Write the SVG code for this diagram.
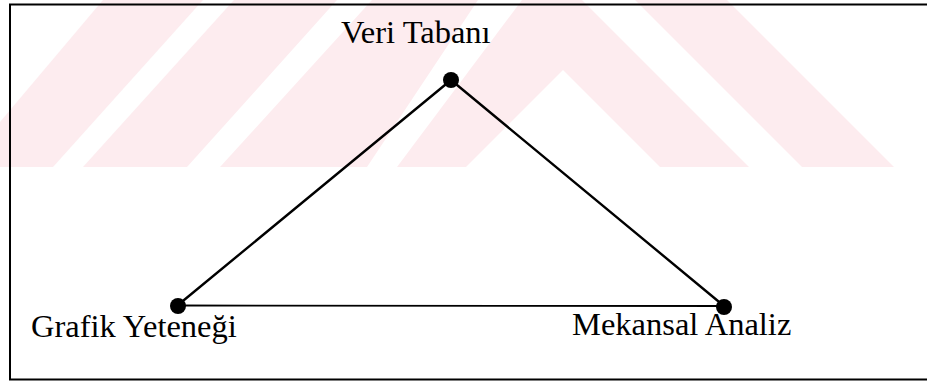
<svg xmlns="http://www.w3.org/2000/svg" width="927" height="384" viewBox="0 0 927 384">
<style>
.bg{fill:#ffffff}
.wm{fill:#fdecef}
.wh{fill:#ffffff}
.frame{stroke:#000;stroke-width:2;fill:none}
.edge{stroke:#000;stroke-width:2.4;fill:none;stroke-linecap:round}
.base{stroke:#000;stroke-width:1.8;fill:none}
.dot{fill:#000}
.lbl{font-family:"Liberation Serif","Times New Roman",serif;font-size:32.5px;fill:#000}
</style>
<rect class="bg" x="0" y="0" width="927" height="384"/>
<g id="watermark">
<rect class="wm" x="0" y="0" width="927" height="167"/>
<polygon class="wh" points="0,0 103,0 0,122"/>
<polygon class="wh" points="203,0 234,0 83,167 53,167"/>
<polygon class="wh" points="337,0 372,0 220,167 187,167"/>
<polygon class="wh" points="478,0 522,0 397,167 367,167"/>
<polygon class="wh" points="563,70 660,167 466,167"/>
<polygon class="wh" points="582,0 635,0 802,167 749,167"/>
<polygon class="wh" points="727,0 927,0 927,167 894,167"/>
</g>
<g id="frame">
<polyline class="frame" points="927,4.5 10,4.5 10,379.5 927,379.5"/>
</g>
<g id="connectors">
<line class="edge" x1="451" y1="80" x2="178" y2="305"/>
<line class="edge" x1="451" y1="80" x2="724" y2="306"/>
<line class="base" x1="178" y1="305.5" x2="724" y2="306"/>
</g>
<g id="node-veri-tabani">
<circle class="dot" cx="451" cy="80" r="8"/>
<text class="lbl" x="341" y="43">Veri Tabanı</text>
</g>
<g id="node-grafik-yetenegi">
<circle class="dot" cx="178" cy="306" r="8"/>
<text class="lbl" x="31" y="337">Grafik Yeteneği</text>
</g>
<g id="node-mekansal-analiz">
<circle class="dot" cx="724" cy="307" r="8"/>
<text class="lbl" x="572" y="335">Mekansal Analiz</text>
</g>
</svg>
